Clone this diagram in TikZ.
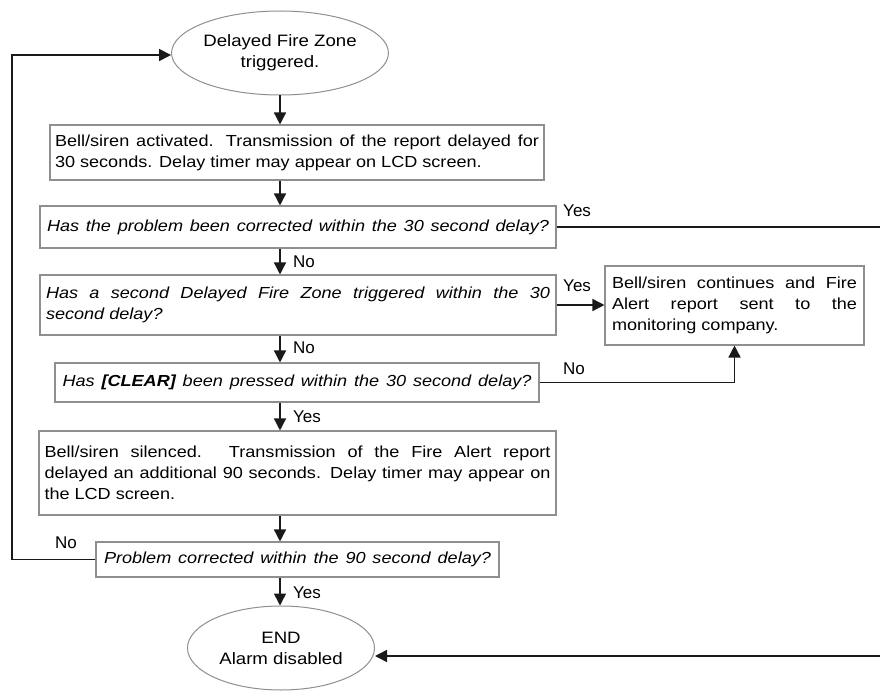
\documentclass[tikz,border=0pt]{standalone}
\usepackage{fontspec}
\setmainfont{Liberation Sans}
\newfontfamily\widefont{Liberation Sans}[FakeStretch=1.13]
\usetikzlibrary{shapes.geometric,arrows.meta}
\definecolor{boxgray}{HTML}{8F8F8F}
\definecolor{linek}{HTML}{1A1A1A}
\newcommand\jline[2]{\makebox[#1][s]{#2}}
\newcommand\lline[2]{\makebox[#1][l]{#2}}
\begin{document}
\begin{tikzpicture}[x=1pt,y=-1pt,
  box/.style={draw=boxgray,line width=1.1pt,rectangle,inner ysep=0pt,align=left,
    font=\widefont\fontsize{16}{21}\selectfont},
  dec/.style={box,font=\widefont\fontsize{16}{21}\selectfont\itshape},
  term/.style={draw=boxgray,line width=1pt,ellipse,inner sep=0pt,minimum width=187pt,
    minimum height=84pt,align=center,font=\widefont\fontsize{16.5}{21}\selectfont},
  lbl/.style={font=\fontsize{17}{20}\selectfont,inner sep=0pt,anchor=west},
  conn/.style={draw=linek,line width=1.5pt},
  arr/.style={conn,-{Triangle[width=12pt,length=12pt]}}]
\useasboundingbox (0,0) rectangle (880,692);

% terminals
\node[term] (t1) at (280,53) {Delayed Fire Zone\\triggered.};
\node[term] (t2) at (281,648) {END\\Alarm disabled};

% boxes
\node[box,inner xsep=5pt,minimum height=55pt] (b1) at (297,152.5)
  {\jline{484pt}{Bell/siren activated. Transmission of the report delayed for}\\
   \lline{484pt}{30 seconds. Delay timer may appear on LCD screen.}};
\node[dec,inner xsep=7pt,minimum height=42pt] (b2) at (298,227)
  {\jline{502pt}{Has the problem been corrected within the 30 second delay?}};
\node[dec,inner xsep=6pt,minimum height=60pt] (b3) at (298,305)
  {\jline{504pt}{Has a second Delayed Fire Zone triggered within the 30}\\
   \lline{504pt}{second delay?}};
\node[box,inner xsep=7pt,minimum height=79pt] (b4) at (734.5,305.5)
  {\jline{245pt}{Bell/siren continues and Fire}\\
   \jline{245pt}{Alert report sent to the}\\
   \lline{245pt}{monitoring company.}};
\node[dec,inner xsep=7.5pt,minimum height=39pt] (b5) at (297,382.5)
  {\jline{469pt}{Has \textbf{[CLEAR]} been pressed within the 30 second delay?}};
\node[box,inner xsep=5.5pt,minimum height=84pt] (b6) at (297.5,473)
  {\jline{506pt}{Bell/siren silenced. Transmission of the Fire Alert report}\\
   \jline{506pt}{delayed an additional 90 seconds. Delay timer may appear on}\\
   \lline{506pt}{the LCD screen.}};
\node[dec,inner xsep=8pt,minimum height=35pt] (b7) at (297.5,559.5)
  {\jline{387pt}{Problem corrected within the 90 second delay?}};

% edge coordinates
\coordinate (redge) at (880,0);
\coordinate (ledge) at (12,0);
\coordinate (e2) at (880,656);

% main flow
\draw[arr] (t1.south) -- (b1.north -| t1.south);
\draw[arr] (b1.south -| t1) -- (b2.north -| t1);
\draw[arr] (b2.south -| t1) -- (b3.north -| t1);
\draw[arr] (b3.south -| t1) -- (b5.north -| t1);
\draw[arr] (b5.south -| t1) -- (b6.north -| t1);
\draw[arr] (b6.south -| t1) -- (b7.north -| t1);
\draw[arr] (b7.south -| t1) -- (t2.north -| t1);

% branches
\draw[conn] (b2.east) -- (b2.east -| redge);
\draw[arr] (b3.east) -- (b3.east -| b4.west);
\draw[arr] (b5.east) -| (b4.south);
\draw[arr] (b7.west) -- (b7.west -| ledge) |- ([yshift=-2pt]t1.west);
\draw[arr] (e2) -- (e2 -| t2.east);

% labels
\node[lbl] (ly1) at (563,211) {Yes};
\node[lbl] (ln1) at (293,262) {No};
\node[lbl] (ly2) at (563,286) {Yes};
\node[lbl] (ln2) at (293,348) {No};
\node[lbl] (ln3) at (563,369) {No};
\node[lbl] (ly3) at (293,417) {Yes};
\node[lbl] (ln4) at (55,543) {No};
\node[lbl] (ly4) at (293,593) {Yes};
\end{tikzpicture}
\end{document}
